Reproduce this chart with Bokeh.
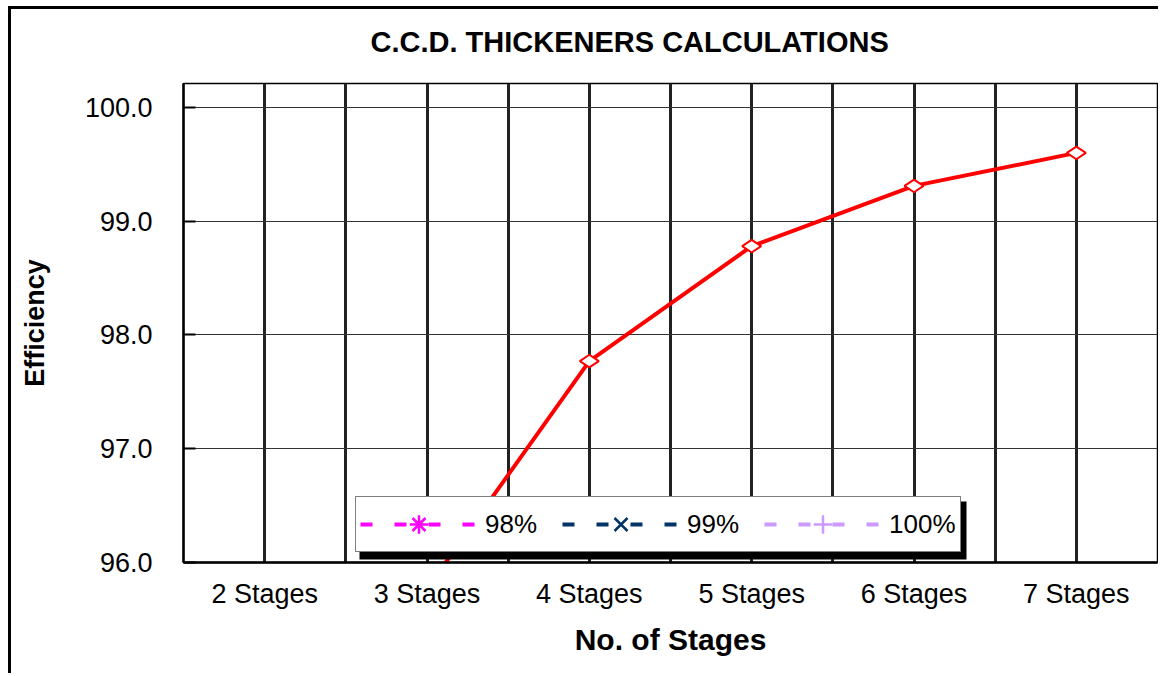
import numpy as np
from bokeh.plotting import figure
from bokeh.models import (Range1d, FixedTicker, PrintfTickFormatter, Legend, LegendItem,
                          BoxAnnotation, Title)
from bokeh.embed import file_html
from bokeh.resources import INLINE

# ---------------- data ----------------
categories = ["2 Stages", "3 Stages", "4 Stages", "5 Stages", "6 Stages", "7 Stages"]
efficiency = [91.8, 95.77, 97.77, 98.78, 99.31, 99.60]
# legend-only series: their values are not visible inside the plotted range
series_98 = [float("nan")] * 6
series_99 = [float("nan")] * 6
series_100 = [float("nan")] * 6
legend_labels = ["98%", "99%", "100%"]
y_ticks = [96.0, 97.0, 98.0, 99.0, 100.0]
title_text = "C.C.D. THICKENERS CALCULATIONS"
x_title = "No. of Stages"
y_title = "Efficiency"

FONT = "Liberation Sans"
x_idx = list(range(len(categories)))

p = figure(width=1150, height=667, output_backend="svg", toolbar_location=None,
           x_range=Range1d(-0.5, len(categories) - 0.5), y_range=Range1d(96, 100.21),
           min_border_left=172, min_border_right=4, min_border_top=74, min_border_bottom=114)
p.styles = {"border-left": "3px solid black", "border-top": "3px solid black",
            "margin-left": "8px", "margin-top": "6px"}
p.background_fill_color = "white"
p.border_fill_color = "white"
p.outline_line_color = "black"
p.outline_line_width = 1.5

# title (a small blank spacer title sits between the main title and the frame)
p.add_layout(Title(text=" ", text_font_size="10px", standoff=0), "above")
p.title.text = title_text
p.title.align = "left"
p.title.offset = 187
p.title.standoff = 25
p.title.text_font = FONT
p.title.text_font_size = "29px"
p.title.text_font_style = "bold"
p.title.text_color = "black"

# grids
p.xgrid.ticker = FixedTicker(ticks=list(np.arange(-0.5, len(categories), 0.5)))
p.xgrid.grid_line_color = "#222222"
p.xgrid.grid_line_width = 3
p.ygrid.ticker = FixedTicker(ticks=y_ticks)
p.ygrid.grid_line_color = "#333333"
p.ygrid.grid_line_width = 1

# x axis
p.xaxis.ticker = FixedTicker(ticks=x_idx)
p.xaxis.major_label_overrides = {i: c for i, c in zip(x_idx, categories)}
p.xaxis.major_tick_line_color = None
p.xaxis.minor_tick_line_color = None
p.xaxis.axis_line_width = 2.5
p.xaxis.axis_line_color = "black"
p.xaxis.major_label_text_font = FONT
p.xaxis.major_label_text_font_size = "27px"
p.xaxis.major_label_text_color = "black"
p.xaxis.major_label_standoff = 10
p.xaxis.axis_label = x_title
p.xaxis.axis_label_text_font = FONT
p.xaxis.axis_label_text_font_size = "30px"
p.xaxis.axis_label_text_font_style = "bold"
p.xaxis.axis_label_text_color = "black"
p.xaxis.axis_label_standoff = 11

# y axis
p.yaxis.ticker = FixedTicker(ticks=y_ticks)
p.yaxis.formatter = PrintfTickFormatter(format="%.1f")
p.yaxis.major_tick_in = 12
p.yaxis.major_tick_out = 0
p.yaxis.major_tick_line_width = 2
p.yaxis.minor_tick_line_color = None
p.yaxis.axis_line_width = 2.5
p.yaxis.axis_line_color = "black"
p.yaxis.major_label_text_font = FONT
p.yaxis.major_label_text_font_size = "27px"
p.yaxis.major_label_text_color = "black"
p.yaxis.major_label_standoff = 31
p.yaxis.axis_label = y_title
p.yaxis.axis_label_text_font = FONT
p.yaxis.axis_label_text_font_size = "27px"
p.yaxis.axis_label_text_font_style = "bold"
p.yaxis.axis_label_text_color = "black"
p.yaxis.axis_label_standoff = 32

# main series
p.line(x_idx, efficiency, line_color="#FF0000", line_width=4)
p.scatter(x_idx, efficiency, marker="diamond", angle=np.pi / 2, size=19,
          line_color="#FF0000", line_width=2, fill_color="white")

# legend-only series
styles = [("#FF00FF", "asterisk", series_98),
          ("#003366", "x", series_99),
          ("#CC99FF", "cross", series_100)]
items = []
for (col, mk, vals), lab in zip(styles, legend_labels):
    lr = p.line(x_idx, vals, line_color=col, line_width=4, line_dash="12 22")
    sr = p.scatter(x_idx, vals, marker=mk, size=16, line_color=col, line_width=2.5)
    items.append(LegendItem(label=lab, renderers=[lr, sr]))

# legend shadow
shadow = BoxAnnotation(left=176, right=783, top=61, bottom=3,
                       left_units="screen", right_units="screen",
                       top_units="screen", bottom_units="screen",
                       fill_color="black", fill_alpha=1, line_color=None)
p.add_layout(shadow)

legend = Legend(items=items, location=(172, 10), orientation="horizontal",
                glyph_width=117, glyph_height=46, label_height=46, label_standoff=8,
                spacing=25, padding=4, margin=0,
                border_line_color="black", border_line_width=1.5,
                background_fill_color="white", background_fill_alpha=1,
                label_text_font=FONT, label_text_font_size="26px", label_text_color="black")
p.add_layout(legend, "center")

open("out.html", "w").write(file_html(p, INLINE))
